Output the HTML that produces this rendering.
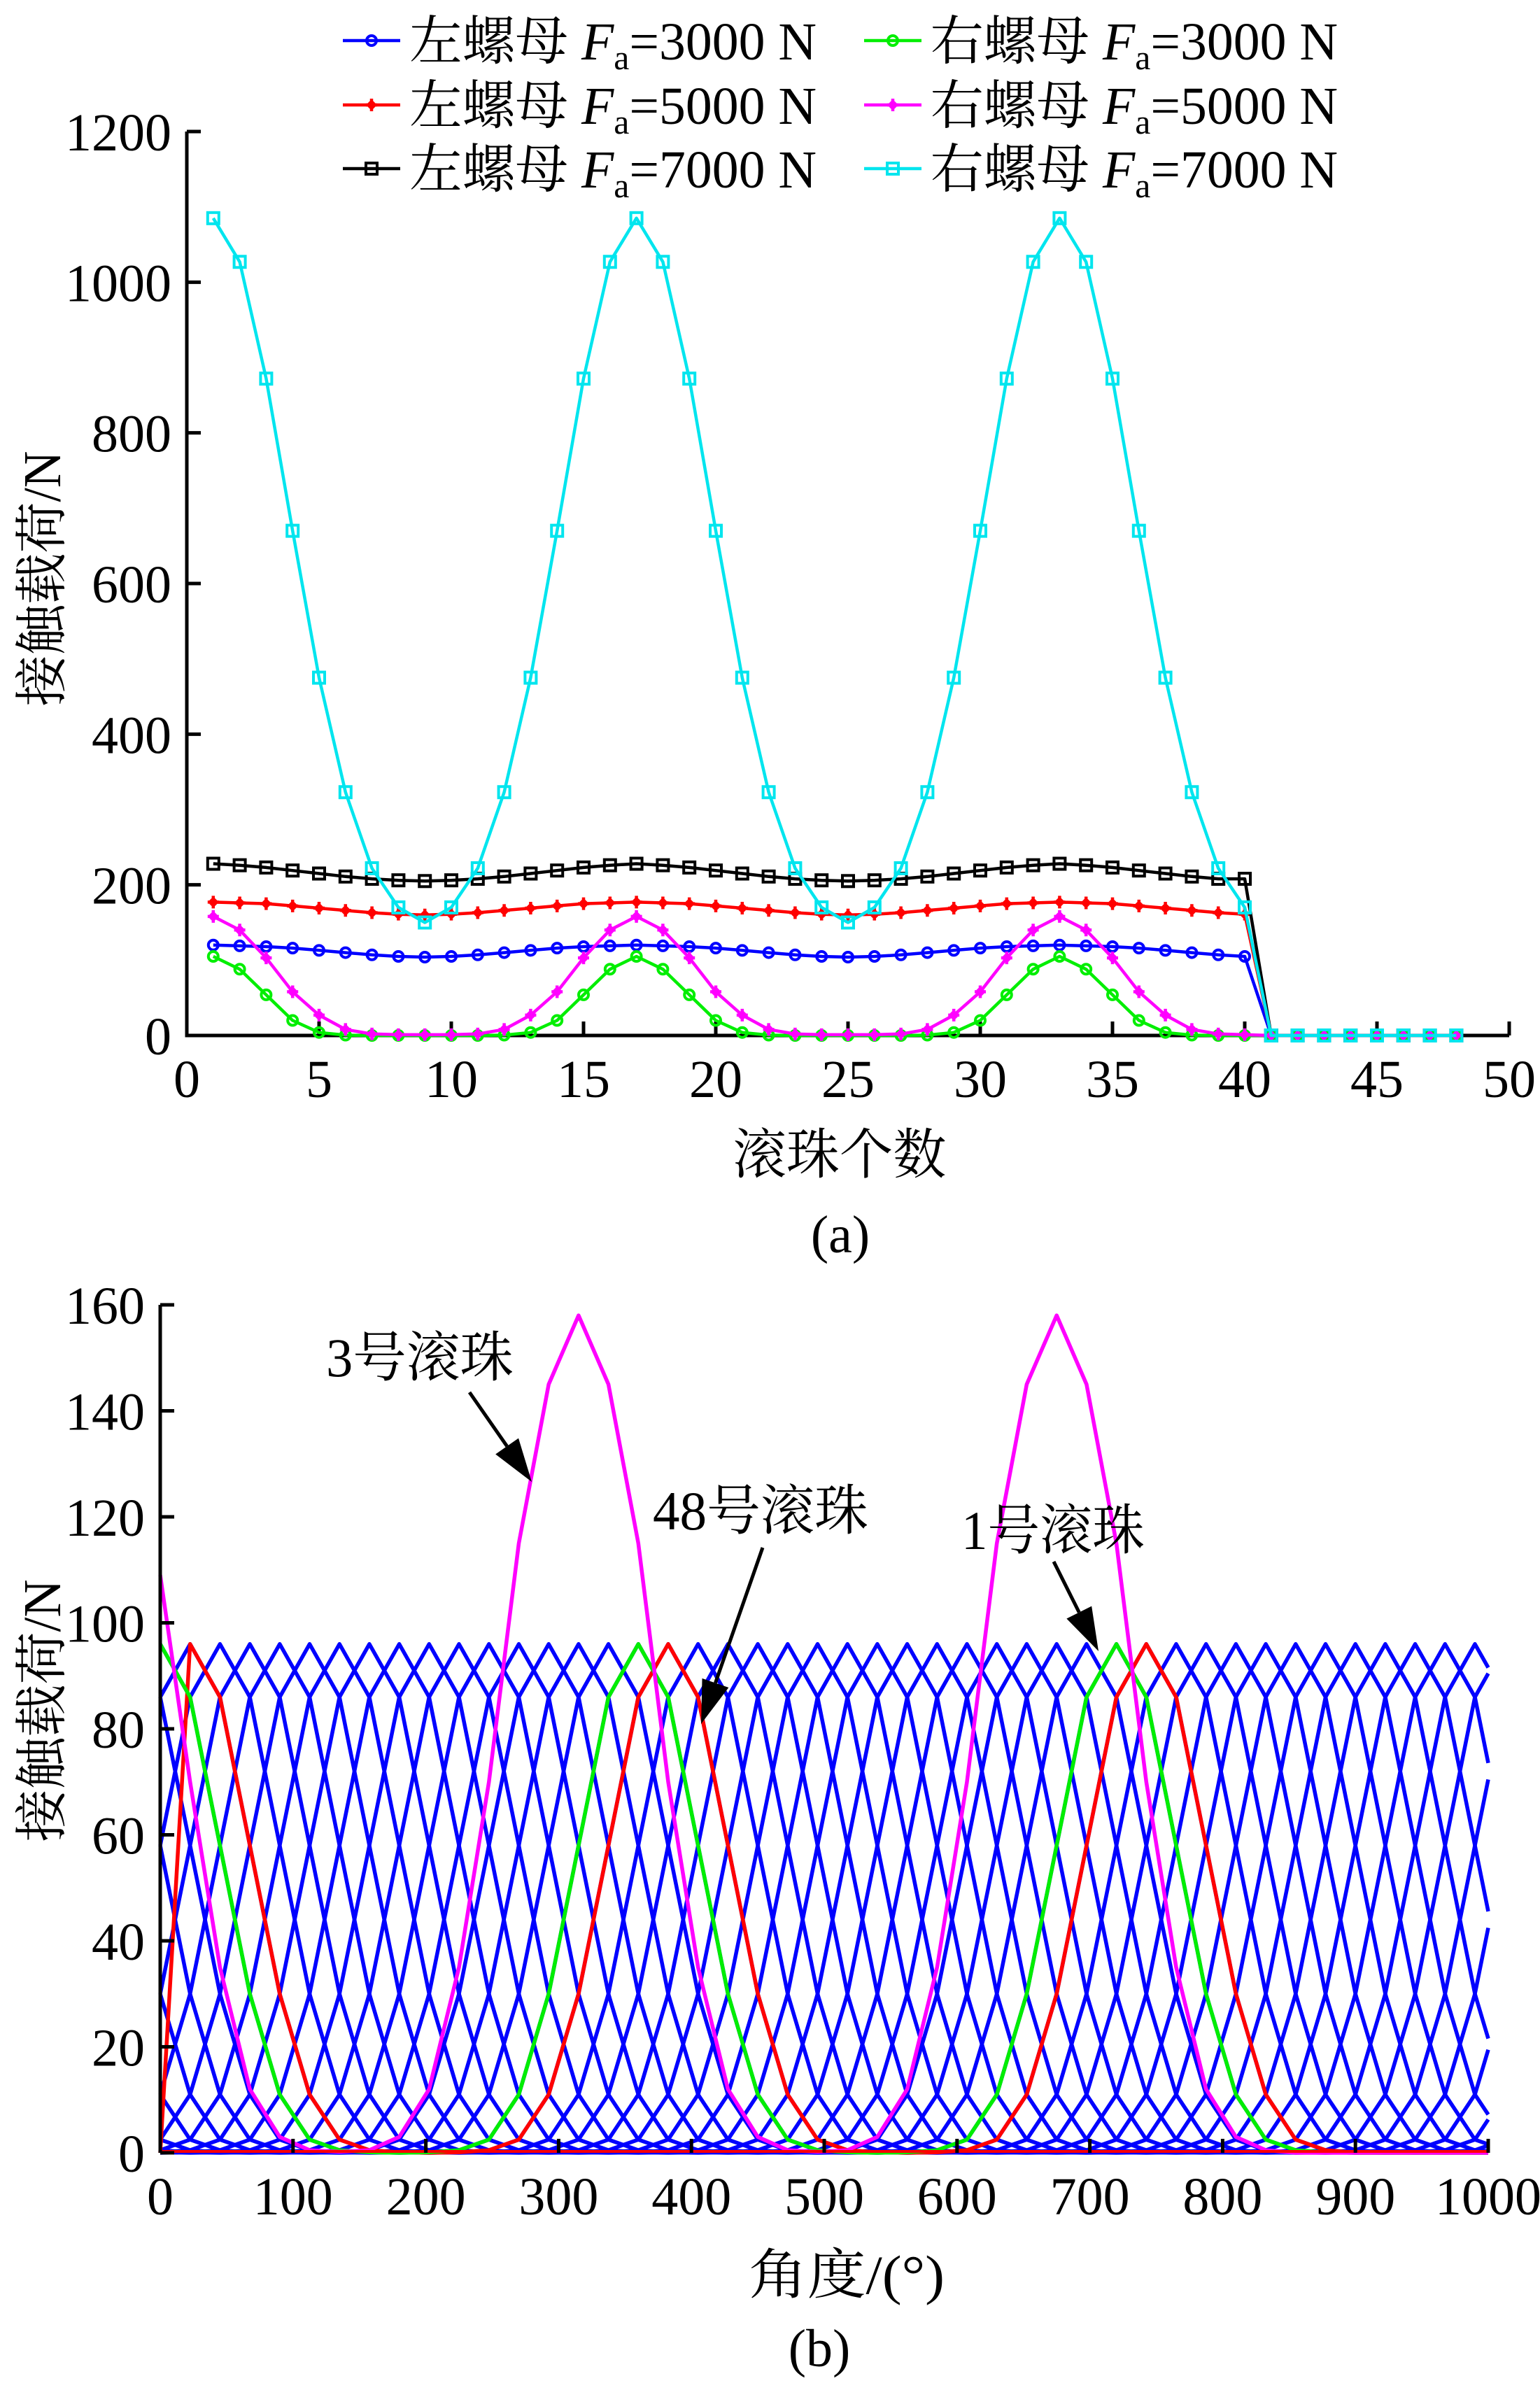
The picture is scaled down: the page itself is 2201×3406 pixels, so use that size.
<!DOCTYPE html>
<html><head><meta charset="utf-8"><style>
html,body{margin:0;padding:0;background:#fff}
svg text{font-family:"Liberation Serif","Noto Serif CJK SC","Noto Sans CJK SC",serif;fill:#000}
</style></head><body>
<svg id="fig" xmlns="http://www.w3.org/2000/svg" width="2201" height="3401" viewBox="0 0 2201 3401" font-family="Liberation Serif, Noto Serif CJK SC, serif">
<rect width="2201" height="3401" fill="#fff"/>
<g id="top"></g>
<g id="bot"></g>
</svg>
<script>
// ---------- Chart (a) data ----------
const balls = [];
for (let i = 1; i <= 48; i++) balls.push(i);
const xTicksA = [0,5,10,15,20,25,30,35,40,45,50];
const yTicksA = [0,200,400,600,800,1000,1200];
const left3000 = [120,119,118,116,113,110,107,105,104,105,107,110,113,116,118,119,120,119,118,116,113,110,107,105,104,105,107,110,113,116,118,119,120,119,118,116,113,110,107,105,0,0,0,0,0,0,0,0];
const left5000 = [177,176,175,172,169,166,163,161,160,161,163,166,169,172,175,176,177,176,175,172,169,166,163,161,160,161,163,166,169,172,175,176,177,176,175,172,169,166,163,161,0,0,0,0,0,0,0,0];
const left7000 = [228,226,223,219,215,211,208,206,205,206,208,211,215,219,223,226,228,226,223,219,215,211,208,206,205,206,208,211,215,219,223,226,228,226,223,219,215,211,208,208,0,0,0,0,0,0,0,0];
const right3000 = [105,88,54,20,4,0.5,0,0,0,0,0,0.5,4,20,54,88,105,88,54,20,4,0.5,0,0,0,0,0,0.5,4,20,54,88,105,88,54,20,4,0.5,0,0,0,0,0,0,0,0,0,0];
const right5000 = [158,140,103,58,27,8,2,1,1,1,2,8,27,58,103,140,158,140,103,58,27,8,2,1,1,1,2,8,27,58,103,140,158,140,103,58,27,8,2,1,0,0,0,0,0,0,0,0];
const right7000 = [1085,1027,872,670,475,323,222,170,150,170,222,323,475,670,872,1027,1085,1027,872,670,475,323,222,170,150,170,222,323,475,670,872,1027,1085,1027,872,670,475,323,222,170,0,0,0,0,0,0,0,0];

// ---------- Chart (b) data ----------
const xTicksB = [0,100,200,300,400,500,600,700,800,900,1000];
const yTicksB = [0,20,40,60,80,100,120,140,160];
const angleStep = 22.5;
const ball1 = [96,86,58,30,11,2.5,0.5,0.1,0,0.1,0.5,2.5,11,30,58,86,96,86,58,30,11,2.5,0.5,0.1,0,0.1,0.5,2.5,11,30,58,86,96,86,58,30,11,2.5,0.5,0.1,0,0,0,0,0];
const ball48 = [0,96,86,58,30,11,2.5,0.5,0.1,0,0.1,0.5,2.5,11,30,58,86,96,86,58,30,11,2.5,0.5,0.1,0,0.1,0.5,2.5,11,30,58,86,96,86,58,30,11,2.5,0.5,0,0,0,0,0];
const ball3 = [109,70,35,12,3,0.5,0.2,0.5,3,12,35,70,115,145,158,145,115,70,35,12,3,0.5,0.2,0.5,3,12,35,70,115,145,158,145,115,70,35,12,3,0.5,0,0,0,0,0,0,0];
const blueProfile = [96,86,58,30,11,2.5,0.5,0.1,0];
const bluePhases = [0,1,2,3,4,5,6,7,8,9,10,11,12,13,14,15];

const NS = "http://www.w3.org/2000/svg";
function mk(parent, tag, attrs, text){
  const e = document.createElementNS(NS, tag);
  for (const k in attrs) e.setAttribute(k, attrs[k]);
  if (text !== undefined) e.textContent = text;
  parent.appendChild(e);
  return e;
}

// ===== Chart A =====
const A = document.getElementById('top');
const ax = {x0:267, x1:2157, y0:1480, y1:188, xmax:50, ymax:1200};
const xa = v => ax.x0 + v/ax.xmax*(ax.x1-ax.x0);
const ya = v => ax.y0 - v/ax.ymax*(ax.y0-ax.y1);

function marker(g, kind, x, y, color){
  let m;
  if (kind==='circle'){ m = mk(g,'circle',{cx:x,cy:y,r:7,fill:'none',stroke:color,'stroke-width':4}); }
  else if (kind==='square'){ m = mk(g,'rect',{x:x-8,y:y-8,width:16,height:16,fill:'none',stroke:color,'stroke-width':4}); }
  else if (kind==='plus'){ m = mk(g,'path',{d:`M${x-8} ${y}H${x+8}M${x} ${y-9}V${y+9}M${x-4} ${y-4}L${x+4} ${y+4}M${x-4} ${y+4}L${x+4} ${y-4}`,stroke:color,'stroke-width':4.5,fill:'none'}); }
  
  
}

const axA = mk(A,'path',{d:`M${ax.x0} ${ax.y1}V${ax.y0}H${ax.x1}`,fill:'none',stroke:'#000','stroke-width':5});


yTicksA.forEach(t=>{
  const y = ya(t);
  const tk = mk(A,'line',{x1:ax.x0,y1:y,x2:ax.x0+20,y2:y,stroke:'#000','stroke-width':5});
  
  
  const lb = mk(A,'text',{x:ax.x0-22,y:y+27,'font-size':76,'text-anchor':'end'},String(t));
  
  
});
xTicksA.forEach(t=>{
  const x = xa(t);
  const tk = mk(A,'line',{x1:x,y1:ax.y0,x2:x,y2:ax.y0-20,stroke:'#000','stroke-width':5});
  
  
  const lb = mk(A,'text',{x:x,y:1568,'font-size':76,'text-anchor':'middle'},String(t));
  
  
});

const seriesA = [
  {d:left3000,c:'#0000ff',m:'circle',name:'left-3000'},
  {d:left5000,c:'#ff0000',m:'plus',name:'left-5000'},
  {d:left7000,c:'#000000',m:'square',name:'left-7000'},
  {d:right3000,c:'#00ee00',m:'circle',name:'right-3000'},
  {d:right5000,c:'#ff00ff',m:'plus',name:'right-5000'},
  {d:right7000,c:'#00e5ee',m:'square',name:'right-7000'}
];
seriesA.forEach(s=>{
  const g = mk(A,'g',{});
  
  
  const pts = s.d.map((v,i)=>xa(balls[i]).toFixed(1)+','+ya(v).toFixed(1)).join(' ');
  const pl = mk(g,'polyline',{points:pts,fill:'none',stroke:s.c,'stroke-width':4.5,'stroke-linejoin':'round'});
  
  
  s.d.forEach((v,i)=>marker(g,s.m,xa(balls[i]),ya(v),s.c));
});

const legItems = [
  {c:'#0000ff',m:'circle',t:'左螺母 ',v:'=3000 N',x:490,y:58},
  {c:'#ff0000',m:'plus',t:'左螺母 ',v:'=5000 N',x:490,y:150},
  {c:'#000000',m:'square',t:'左螺母 ',v:'=7000 N',x:490,y:241},
  {c:'#00ee00',m:'circle',t:'右螺母 ',v:'=3000 N',x:1235,y:58},
  {c:'#ff00ff',m:'plus',t:'右螺母 ',v:'=5000 N',x:1235,y:150},
  {c:'#00e5ee',m:'square',t:'右螺母 ',v:'=7000 N',x:1235,y:241}
];
legItems.forEach(L=>{
  const g = mk(A,'g',{});
  
  
  mk(g,'line',{x1:L.x,y1:L.y,x2:L.x+82,y2:L.y,stroke:L.c,'stroke-width':4.5});
  marker(g,L.m,L.x+41,L.y,L.c);
  const tx = mk(g,'text',{x:L.x+95,y:L.y+27,'font-size':76,textLength:582,lengthAdjust:'spacingAndGlyphs'});
  
  
  mk(tx,'tspan',{},L.t);
  mk(tx,'tspan',{'font-style':'italic'},'F');
  mk(tx,'tspan',{'font-size':50,dy:14},'a');
  mk(tx,'tspan',{dy:-14},L.v);
});

let t;
t = mk(A,'text',{x:1200,y:1677,'font-size':78,'text-anchor':'middle',textLength:305,lengthAdjust:'spacingAndGlyphs'},'滚珠个数');


t = mk(A,'text',{x:1201,y:1790,'font-size':76,'text-anchor':'middle'},'(a)');


t = mk(A,'text',{x:0,y:0,'font-size':76,'text-anchor':'middle',transform:'translate(86 827) rotate(-90)',textLength:365,lengthAdjust:'spacingAndGlyphs'},'接触载荷/N');



// ===== Chart B =====
const B = document.getElementById('bot');
const bx = {x0:229, x1:2127, y0:3077, y1:1865, xmax:1000, ymax:160};
const xb = v => bx.x0 + v/bx.xmax*(bx.x1-bx.x0);
const yb = v => bx.y0 - v/bx.ymax*(bx.y0-bx.y1);

function blueSeries(phase){
  const out=[];
  for(let i=0;i<46;i++){
    let d = ((i-phase)%16+16)%16; d = Math.min(d,16-d);
    out.push(blueProfile[d]);
  }
  return out;
}
function polyB(g,vals,color,name){
  let pts = vals.map((v,i)=>{
    let a = i*angleStep, val=v;
    if (a>1000 && i>0){ const f=(1000-(i-1)*angleStep)/angleStep; val = vals[i-1]+(v-vals[i-1])*f; a=1000; }
    return xb(a).toFixed(1)+','+yb(val).toFixed(1);
  }).join(' ');
  const pl = mk(g,'polyline',{points:pts,fill:'none',stroke:color,'stroke-width':5.5,'stroke-linejoin':'round'});
  
  
}
const gBlue = mk(B,'g',{});


bluePhases.forEach(p=>polyB(gBlue,blueSeries(p),'#0000ff','ball-curve'));
polyB(B,ball48.concat([0]),'#ff0000','ball-48-curve');
polyB(B,ball1.concat([0]),'#00ee00','ball-1-curve');
polyB(B,ball3.concat([0]),'#ff00ff','ball-3-curve');
const flat = mk(B,'line',{x1:bx.x0,y1:bx.y0-2,x2:bx.x1,y2:bx.y0-2,stroke:'#ff0000','stroke-width':4});



const axB = mk(B,'path',{d:`M${bx.x0} ${bx.y1}V${bx.y0}`,fill:'none',stroke:'#000','stroke-width':5});


yTicksB.forEach(v=>{
  const y=yb(v);
  const tk = mk(B,'line',{x1:bx.x0,y1:y,x2:bx.x0+20,y2:y,stroke:'#000','stroke-width':5});
  
  
  const lb = mk(B,'text',{x:bx.x0-22,y:y+27,'font-size':76,'text-anchor':'end'},String(v));
  
  
});
xTicksB.forEach(v=>{
  const x=xb(v);
  const tk = mk(B,'line',{x1:x,y1:bx.y0,x2:x,y2:bx.y0-20,stroke:'#000','stroke-width':5});
  
  
  const lb = mk(B,'text',{x:x,y:3165,'font-size':76,'text-anchor':'middle'},String(v));
  
  
});

function arrow(x1,y1,x2,y2,name){
  const g = mk(B,'g',{});
  
  
  const dx=x2-x1, dy=y2-y1, L=Math.hypot(dx,dy), ux=dx/L, uy=dy/L;
  const hl=62, hw=20;
  const bxp=x2-ux*hl, byp=y2-uy*hl;
  mk(g,'line',{x1:x1,y1:y1,x2:bxp,y2:byp,stroke:'#000','stroke-width':5});
  mk(g,'polygon',{points:`${x2},${y2} ${bxp-uy*hw},${byp+ux*hw} ${bxp+uy*hw},${byp-ux*hw}`,fill:'#000'});
}
t = mk(B,'text',{x:466,y:1967,'font-size':78,textLength:268,lengthAdjust:'spacingAndGlyphs'},'3号滚珠');


arrow(671,1990,760,2118,'arrow-ball-3');
t = mk(B,'text',{x:933,y:2186,'font-size':78,textLength:308,lengthAdjust:'spacingAndGlyphs'},'48号滚珠');


arrow(1090,2212,1002,2464,'arrow-ball-48');
t = mk(B,'text',{x:1374,y:2214,'font-size':78,textLength:262,lengthAdjust:'spacingAndGlyphs'},'1号滚珠');


arrow(1506,2232,1570,2360,'arrow-ball-1');

t = mk(B,'text',{x:1210,y:3278,'font-size':78,'text-anchor':'middle',textLength:280,lengthAdjust:'spacingAndGlyphs'},'角度/(°)');


t = mk(B,'text',{x:1171,y:3382,'font-size':76,'text-anchor':'middle'},'(b)');


t = mk(B,'text',{x:0,y:0,'font-size':76,'text-anchor':'middle',transform:'translate(86 2445) rotate(-90)',textLength:375,lengthAdjust:'spacingAndGlyphs'},'接触载荷/N');


</script>
</body></html>
